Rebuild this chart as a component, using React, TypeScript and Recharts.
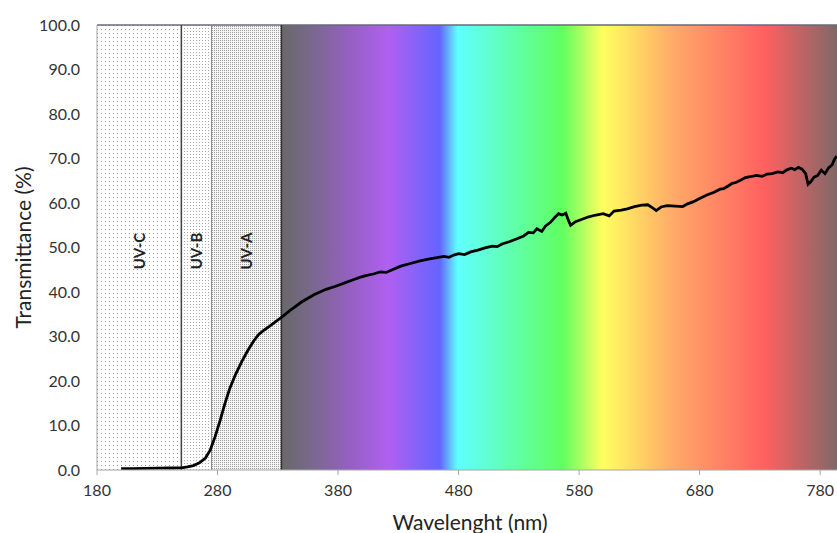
import { LineChart, Line, XAxis, YAxis, ReferenceArea, ReferenceLine } from "recharts";

// measured spectrum
const wavelength = [
  200, 210, 220, 230, 240, 250, 255, 260, 265, 270, 274, 278, 282, 286, 290, 295, 300, 305, 310, 314,
  318, 323, 328, 333, 340, 350, 360, 370, 378, 385, 392, 398, 403, 410, 415, 420, 425, 432, 440, 448,
  455, 462, 468, 472, 476, 480, 485, 490, 496, 502, 508, 512, 516, 522, 528, 534, 538, 542, 545, 549,
  552, 556, 560, 563, 566, 569, 571, 573, 577, 582, 588, 594, 600, 605, 609, 615, 620, 626, 632, 637,
  641, 644, 648, 653, 660, 666, 670, 675, 680, 686, 692, 697, 700, 703, 707, 710, 714, 718, 722, 727,
  732, 736, 740, 745, 749, 752, 756, 759, 762, 765, 768, 770, 772, 775, 778, 781, 784, 787, 790, 792, 794,
];
const transmittance = [
  0.3, 0.3, 0.35, 0.4, 0.45, 0.5, 0.7, 1.0, 1.6, 2.7, 4.5, 7.5, 11.0, 14.8, 18.2, 21.5, 24.3, 26.8, 29.0, 30.4,
  31.3, 32.3, 33.3, 34.3, 35.8, 37.8, 39.4, 40.6, 41.3, 42.0, 42.7, 43.3, 43.7, 44.1, 44.5, 44.4, 45.0, 45.8, 46.4, 47.0,
  47.4, 47.7, 48.0, 47.8, 48.3, 48.6, 48.4, 49.0, 49.4, 49.9, 50.3, 50.2, 50.8, 51.3, 51.9, 52.6, 53.4, 53.3, 54.2, 53.6,
  54.8, 55.6, 56.8, 57.6, 57.3, 57.7, 56.2, 55.0, 55.8, 56.3, 56.9, 57.3, 57.6, 57.1, 58.2, 58.4, 58.7, 59.2, 59.5, 59.6,
  58.9, 58.3, 59.1, 59.4, 59.3, 59.2, 59.8, 60.3, 61.0, 61.8, 62.4, 63.1, 63.2, 63.7, 64.4, 64.6, 65.1, 65.7, 65.9, 66.2,
  66.0, 66.5, 66.6, 67.0, 66.8, 67.4, 67.8, 67.5, 68.0, 67.6, 66.6, 64.2, 64.7, 65.8, 66.2, 67.4, 66.6, 67.9, 68.6, 69.9, 70.5,
];

const xTicks = [180, 280, 380, 480, 580, 680, 780];
const yTicks = [0, 10, 20, 30, 40, 50, 60, 70, 80, 90, 100];

const bandNames = ["UV-C", "UV-B", "UV-A"];
const bandEdges = [180, 250, 275, 333];
const bandPatterns = ["dotsC", "dotsB", "dotsA"];
const visibleRange = [333, 794];

const data = wavelength.map((w, i) => ({ w, t: transmittance[i] }));

const spectrumStops = [
  { o: 0, c: "#686868" },
  { o: 0.05, c: "#77698a" },
  { o: 0.12, c: "#9460c0" },
  { o: 0.193, c: "#b060f0" },
  { o: 0.285, c: "#6464ff" },
  { o: 0.317, c: "#60ffff" },
  { o: 0.506, c: "#60ff60" },
  { o: 0.578, c: "#ffff60" },
  { o: 0.708, c: "#ffa868" },
  { o: 0.87, c: "#ff6060" },
  { o: 1, c: "#806868" },
];

const font = "Lato, 'Open Sans', sans-serif";

function BandLabel(props: any) {
  const { viewBox, value } = props;
  const cx = viewBox.x + viewBox.width / 2;
  const cy = viewBox.y + 226;
  return (
    <text
      x={cx}
      y={cy}
      transform={`rotate(-90 ${cx} ${cy})`}
      textAnchor="middle"
      dominantBaseline="central"
      fontFamily={font}
      fontWeight="bold"
      fontSize={15}
      fill="#222"
    >
      {value}
    </text>
  );
}

function YTitle(props: any) {
  const { viewBox } = props;
  const cx = 22;
  const cy = viewBox.y + viewBox.height / 2;
  return (
    <text
      x={cx}
      y={cy}
      transform={`rotate(-90 ${cx} ${cy})`}
      textAnchor="middle"
      dominantBaseline="central"
      fontFamily={font}
      fontSize={21}
      fill="#222"
    >
      Transmittance (%)
    </text>
  );
}

function XTitle(props: any) {
  const { viewBox } = props;
  return (
    <text
      x={viewBox.x + viewBox.width / 2 + 3}
      y={521}
      textAnchor="middle"
      dominantBaseline="central"
      fontFamily={font}
      fontSize={21}
      fill="#222"
    >
      Wavelenght (nm)
    </text>
  );
}

export default function App() {
  return (
    <div style={{ position: "absolute", left: 0, top: 0, width: 837, height: 533, background: "#fff" }}>
      <LineChart width={837} height={533} data={data} margin={{ top: 25, right: 0, bottom: 0, left: 0 }}>
        <defs>
          <linearGradient id="spectrum" x1="0" y1="0" x2="1" y2="0">
            {spectrumStops.map((s, i) => (
              <stop key={i} offset={s.o} stopColor={s.c} />
            ))}
          </linearGradient>
          <pattern id="dotsC" width="4" height="4" patternUnits="userSpaceOnUse">
            <rect width="4" height="4" fill="#fff" />
            <rect x="1" y="1" width="1" height="1" fill="#9a9a9a" />
          </pattern>
          <pattern id="dotsB" width="3" height="3" patternUnits="userSpaceOnUse">
            <rect width="3" height="3" fill="#fff" />
            <rect x="1" y="1" width="1" height="1" fill="#a8a8a8" />
          </pattern>
          <pattern id="dotsA" width="2" height="2" patternUnits="userSpaceOnUse">
            <rect width="2" height="2" fill="#f4f4f4" />
            <rect x="0" y="0" width="1" height="1" fill="#a0a0a0" />
          </pattern>
        </defs>

        <XAxis
          dataKey="w"
          type="number"
          domain={[180, 794]}
          ticks={xTicks}
          allowDataOverflow
          height={63}
          tickSize={5}
          tickMargin={10}
          axisLine={{ stroke: "#a6a6a6" }}
          tickLine={{ stroke: "#a6a6a6" }}
          tick={{ fontFamily: font, fontSize: 16, fill: "#333" }}
          label={<XTitle />}
        />
        <YAxis
          type="number"
          domain={[0, 100]}
          ticks={yTicks}
          width={97}
          tickSize={5}
          tickMargin={12}
          axisLine={{ stroke: "#a6a6a6" }}
          tickLine={false}
          tickFormatter={(v: number) => v.toFixed(1)}
          tick={{ fontFamily: font, fontSize: 16, fill: "#333" }}
          label={<YTitle />}
        />

        <ReferenceArea
          x1={visibleRange[0]}
          x2={visibleRange[1]}
          y1={0}
          y2={100}
          fill="url(#spectrum)"
          fillOpacity={1}
          ifOverflow="hidden"
        />
        {bandNames.map((name, i) => (
          <ReferenceArea
            key={name}
            x1={bandEdges[i]}
            x2={bandEdges[i + 1]}
            y1={0}
            y2={100}
            fill={`url(#${bandPatterns[i]})`}
            fillOpacity={1}
            label={<BandLabel value={name} />}
          />
        ))}
        <ReferenceLine y={100} stroke="#6a6a7a" strokeWidth={1.5} />
        <ReferenceLine x={bandEdges[1]} stroke="#404040" strokeWidth={1.5} />
        <ReferenceLine x={bandEdges[2]} stroke="#8a8a8a" strokeWidth={1} />
        <ReferenceLine x={bandEdges[3]} stroke="#303030" strokeWidth={1.5} />

        <Line
          type="linear"
          dataKey="t"
          stroke="#000"
          strokeWidth={2.8}
          dot={false}
          activeDot={false}
          isAnimationActive={false}
        />
      </LineChart>
    </div>
  );
}
